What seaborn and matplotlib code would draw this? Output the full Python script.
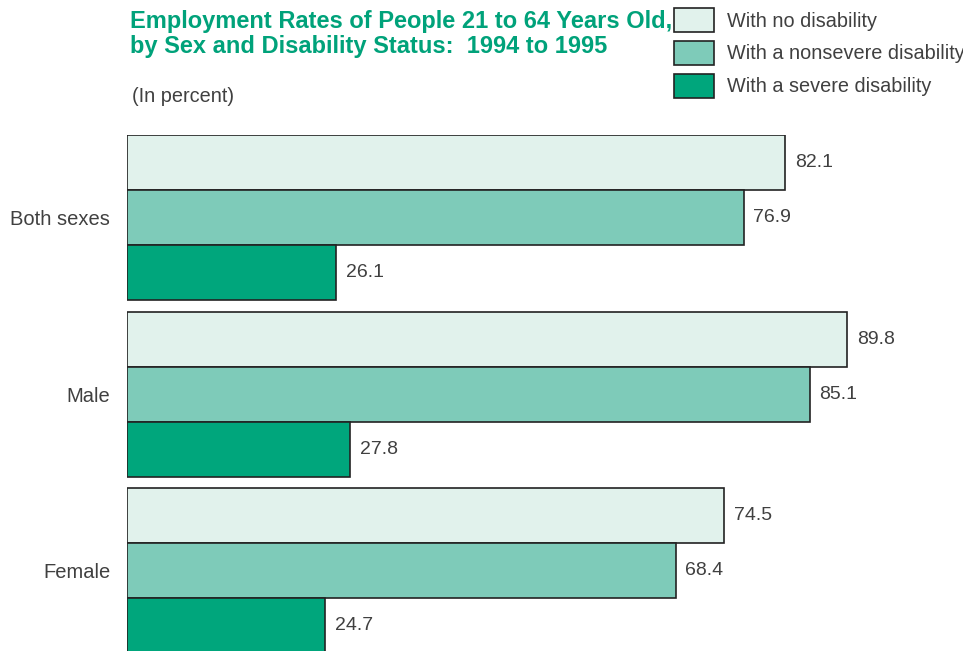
import matplotlib
matplotlib.use("Agg")
import matplotlib.pyplot as plt
import seaborn as sns
import pandas as pd

# Employment rates by sex and disability status (percent)
groups = ["Both sexes", "Male", "Female"]
statuses = ["With no disability", "With a nonsevere disability", "With a severe disability"]
no_disability = [82.1, 89.8, 74.5]
nonsevere = [76.9, 85.1, 68.4]
severe = [26.1, 27.8, 24.7]
colors = ["#E1F2EC", "#7ECBB9", "#00A67C"]

rows = []
for status, values in zip(statuses, [no_disability, nonsevere, severe]):
    for g, v in zip(groups, values):
        rows.append({"group": g, "status": status, "rate": v})
df = pd.DataFrame(rows)

sns.set_theme(style="white")
plt.rcParams["font.family"] = ["Liberation Sans", "DejaVu Sans"]

text_color = "#404040"

fig = plt.figure(figsize=(9.63, 6.51), dpi=100)
ax = fig.add_axes([127 / 963, 0, 802 / 963, (651 - 135) / 651])

sns.barplot(
    data=df, y="group", x="rate", hue="status", orient="h",
    order=groups, hue_order=statuses, palette=colors,
    width=0.935, edgecolor="#222222", linewidth=1.2, saturation=1,
    ax=ax,
)

for cont in ax.containers:
    ax.bar_label(cont, fmt="%.1f", padding=7, fontsize=14, color=text_color)

ax.set_xlim(0, 100)
ax.set_ylim(2.456, -0.4675)
ax.set_xlabel("")
ax.set_ylabel("")
ax.set_xticks([])
ax.tick_params(axis="y", length=0, pad=12, labelsize=14.5, labelcolor=text_color)
for s in ax.spines.values():
    s.set_visible(False)

handles, labels = ax.get_legend_handles_labels()
if ax.legend_:
    ax.legend_.remove()
fig.legend(
    handles, labels, loc="upper left", bbox_to_anchor=(674 / 963, 1 - 8 / 651),
    frameon=False, fontsize=14.3, handlelength=2.0, handleheight=1.48,
    labelspacing=0.45, handletextpad=0.65, borderaxespad=0, borderpad=0,
    labelcolor=text_color,
)

fig.text(130 / 963, 1 - 10 / 651,
         "Employment Rates of People 21 to 64 Years Old,\nby Sex and Disability Status:  1994 to 1995",
         ha="left", va="top", fontsize=17, fontweight="bold", color="#00A27A",
         linespacing=1.1)
fig.text(132 / 963, 1 - 87 / 651, "(In percent)", ha="left", va="top",
         fontsize=14.3, color=text_color)

fig.savefig("out.png", dpi=100)
